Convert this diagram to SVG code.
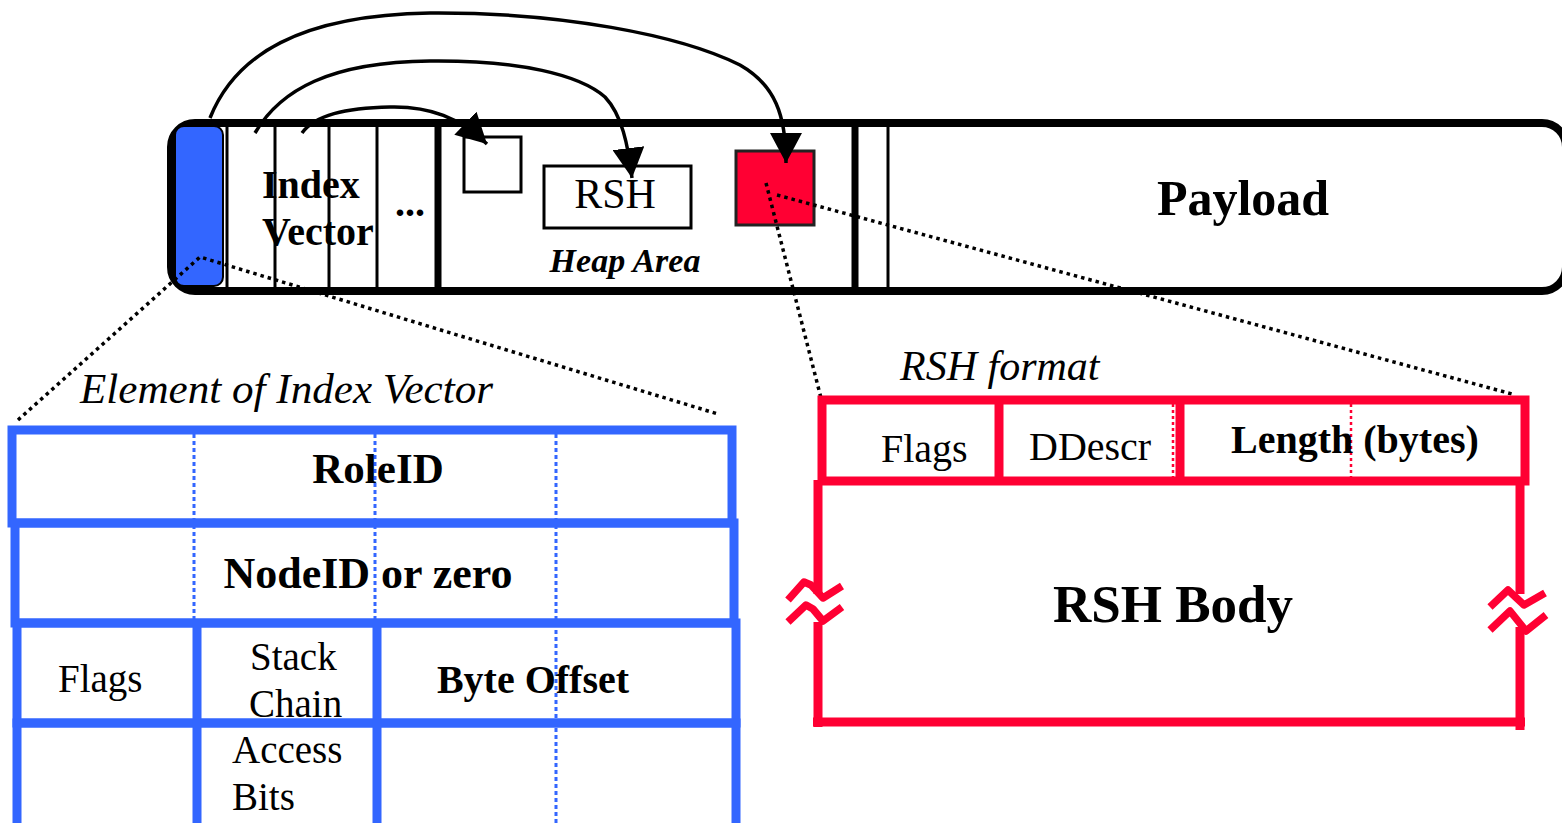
<svg xmlns="http://www.w3.org/2000/svg" width="1562" height="823" viewBox="0 0 1562 823">
<style>
.t{font-family:"Liberation Serif","Times New Roman",serif;fill:#000}
.b{font-weight:bold}
.i{font-style:italic}
.blk{fill:none;stroke:#000}
.blue{fill:none;stroke:#3366FF;stroke-width:9}
.bdot{fill:none;stroke:#3366FF;stroke-width:3;stroke-dasharray:4 3}
.red{fill:none;stroke:#FF0033;stroke-width:9}
.rdot{fill:none;stroke:#FF0033;stroke-width:2.5;stroke-dasharray:3 3}
.dot{fill:none;stroke:#000;stroke-width:3.5;stroke-dasharray:3.5 4}
.sq{fill:none;stroke:#FF0033;stroke-width:7.5;stroke-linejoin:round}
</style>
<defs>
<marker id="ah" markerUnits="userSpaceOnUse" viewBox="0 0 30 32" refX="30" refY="16" markerWidth="30" markerHeight="32" orient="auto">
<path d="M0,0 L30,16 L0,32 z" fill="#000"/>
</marker>
</defs>
<rect width="1562" height="823" fill="#fff"/>

<g id="packet">
<rect x="171" y="123" width="1395" height="168" rx="24" class="blk" stroke-width="8"/>
<rect x="175" y="126" width="48" height="160" rx="9" fill="#3366FF" stroke="#000" stroke-width="2"/>
<g class="blk" stroke-width="3">
<line x1="227" y1="125" x2="227" y2="289"/>
<line x1="275" y1="125" x2="275" y2="289"/>
<line x1="329" y1="125" x2="329" y2="289"/>
<line x1="377" y1="125" x2="377" y2="289"/>
<line x1="888" y1="125" x2="888" y2="289"/>
</g>
<g class="blk" stroke-width="7">
<line x1="438" y1="125" x2="438" y2="289"/>
<line x1="855" y1="125" x2="855" y2="289"/>
</g>
</g>

<g id="index-vector">
<text class="t b" x="262" y="198" font-size="40">Index</text>
<text class="t b" x="262" y="245" font-size="40">Vector</text>
<text class="t b" x="395" y="216" font-size="40">...</text>
</g>

<g id="heap">
<rect x="464" y="137" width="57" height="55" class="blk" stroke-width="3"/>
<rect x="544" y="166" width="147" height="62" class="blk" stroke-width="3"/>
<text class="t" x="615" y="208" font-size="42" text-anchor="middle">RSH</text>
<rect x="736" y="151" width="78" height="74" fill="#FF0033" stroke="#222" stroke-width="3"/>
<text class="t b i" x="625" y="272" font-size="34" text-anchor="middle">Heap Area</text>
</g>

<g id="payload">
<text class="t b" x="1243" y="215" font-size="50" text-anchor="middle">Payload</text>
</g>

<g id="connectors">
<path class="blk" stroke-width="3.5" marker-end="url(#ah)" d="M210,118 C235,55 300,15 430,13 C560,12 680,35 740,65 C775,85 786,115 786,163"/>
<path class="blk" stroke-width="3.5" marker-end="url(#ah)" d="M255,133 C280,90 330,62 430,61 C520,60 580,75 605,97 C622,115 628,145 632,178"/>
<path class="blk" stroke-width="3.5" marker-end="url(#ah)" d="M302,133 C315,115 345,108 390,107 C430,106 460,118 487,144"/>
<polyline class="dot" points="18,420 200,257 718,414"/>
<line class="dot" x1="766" y1="183" x2="821" y2="398"/>
<line class="dot" x1="777" y1="195" x2="1512" y2="394"/>
</g>

<g id="element-table">
<text class="t i" x="80" y="403" font-size="42" textLength="413" lengthAdjust="spacingAndGlyphs">Element of Index Vector</text>
<line class="bdot" x1="194" y1="434" x2="194" y2="620"/>
<line class="bdot" x1="375" y1="434" x2="375" y2="620"/>
<line class="bdot" x1="556" y1="434" x2="556" y2="823"/>
<rect class="blue" x="12" y="430" width="720" height="93"/>
<rect class="blue" x="15" y="523" width="719" height="100"/>
<rect class="blue" x="17" y="623" width="719" height="100"/>
<rect class="blue" x="17" y="723" width="719" height="110"/>
<line class="blue" x1="197" y1="623" x2="197" y2="823"/>
<line class="blue" x1="377" y1="623" x2="377" y2="823"/>
<text class="t b" x="378" y="483" font-size="43" text-anchor="middle">RoleID</text>
<text class="t b" x="368" y="588" font-size="44" text-anchor="middle">NodeID or zero</text>
<text class="t" x="58" y="692" font-size="39">Flags</text>
<text class="t" x="250" y="670" font-size="39">Stack</text>
<text class="t" x="249" y="717" font-size="39">Chain</text>
<text class="t b" x="533" y="693" font-size="40" text-anchor="middle">Byte Offset</text>
<text class="t" x="232" y="763" font-size="39">Access</text>
<text class="t" x="232" y="810" font-size="39">Bits</text>
</g>

<g id="rsh-format">
<text class="t i" x="900" y="380" font-size="42">RSH format</text>
<line class="rdot" x1="1173" y1="404" x2="1173" y2="477"/>
<line class="rdot" x1="1351" y1="404" x2="1351" y2="477"/>
<rect class="red" x="822" y="400" width="703" height="81"/>
<line class="red" x1="999" y1="400" x2="999" y2="481"/>
<line class="red" x1="1180" y1="400" x2="1180" y2="481"/>
<text class="t" x="881" y="462" font-size="40">Flags</text>
<text class="t" x="1029" y="460" font-size="40">DDescr</text>
<text class="t b" x="1231" y="453" font-size="40">Length (bytes)</text>
</g>

<g id="rsh-body">
<g class="red" stroke-width="10">
<line x1="818" y1="480" x2="818" y2="594"/>
<line x1="818" y1="622" x2="818" y2="727"/>
<line x1="813" y1="722" x2="1525" y2="722"/>
<line x1="1520" y1="481" x2="1520" y2="594"/>
<line x1="1520" y1="627" x2="1520" y2="730"/>
</g>
<polyline class="sq" points="788,600 804,582 811,585 823,598 842,586"/>
<polyline class="sq" points="788,622 806,605 813,609 823,621 842,607"/>
<polyline class="sq" points="1490,607 1508,590 1524,605 1545,593"/>
<polyline class="sq" points="1490,630 1510,611 1526,631 1546,615"/>
<text class="t b" x="1173" y="622" font-size="53" text-anchor="middle">RSH Body</text>
</g>
</svg>
